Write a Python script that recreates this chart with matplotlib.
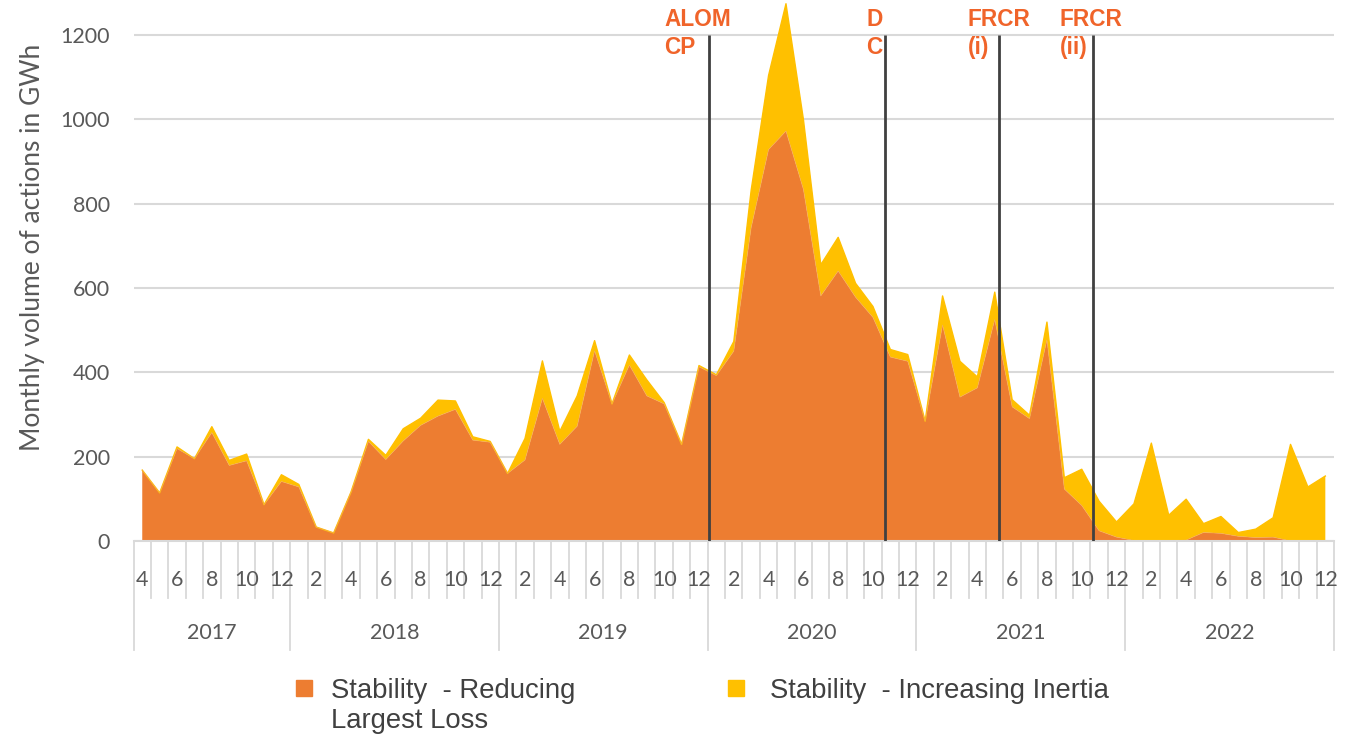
import numpy as np
import matplotlib.pyplot as plt
from matplotlib.patches import Rectangle

# monthly series, Apr 2017 .. Dec 2022 (GWh)
years = [2017, 2018, 2019, 2020, 2021, 2022]
months = [4, 5, 6, 7, 8, 9, 10, 11, 12] + list(range(1, 13)) * 5
reducing_loss = [168, 114, 219, 195, 257, 179, 190, 86, 141,
                 128, 33, 19, 116, 236, 193, 237, 274, 296, 312, 239, 234,
                 160, 192, 338, 229, 272, 451, 325, 417, 344, 325, 229, 413,
                 392, 450, 743, 928, 972, 834, 581, 640, 578, 530, 436, 426,
                 284, 512, 341, 363, 525, 318, 290, 477, 123, 84, 24, 9,
                 1, 0, 0, 2, 20, 18, 11, 8, 9, 0, 0, 0]
increasing_inertia = [0, 0, 4, 0, 14, 12, 16, 0, 16,
                      6, 0, 0, 0, 5, 10, 29, 17, 38, 20, 8, 2,
                      0, 51, 89, 31, 72, 24, 0, 24, 38, 3, 0, 3,
                      2, 23, 89, 176, 302, 166, 74, 80, 33, 26, 18, 16,
                      0, 69, 85, 26, 65, 17, 8, 42, 27, 86, 70, 36,
                      87, 232, 61, 97, 21, 40, 9, 20, 46, 229, 128, 154]

events = ['ALOM\nCP', 'D\nC', 'FRCR\n(i)', 'FRCR\n(ii)']
event_pos = [32.57, 42.67, 49.27, 54.66]
event_text_pos = [30.0, 41.62, 47.43, 52.72]

orange = '#ED7D31'
yellow = '#FFC000'
label_col = '#F0642A'
grey = '#595959'

x = np.arange(len(months))
top = np.array(reducing_loss) + np.array(increasing_inertia)

fig = plt.figure(figsize=(13.6, 7.38), dpi=100)
ax = fig.add_axes([0.0982, 0.267, 0.8827, 0.7314])

ax.set_axisbelow(True)
ax.yaxis.grid(True, color='#D9D9D9', linewidth=1.5)
ax.stackplot(x, reducing_loss, increasing_inertia, colors=[orange, yellow], linewidth=0)
ax.plot(x, top, color=yellow, linewidth=1, zorder=2)
ax.plot(x, reducing_loss, color='#F4A460', linewidth=0.6, alpha=0.6, zorder=2)

ax.set_xlim(-0.5, len(months) - 0.5)
ax.set_ylim(0, 1280)
ax.set_yticks(range(0, 1201, 200))
ax.tick_params(axis='y', length=0, pad=17, labelsize=15.5, labelcolor=grey)
for lab in ax.get_yticklabels():
    lab.set_fontfamily('Lato')
for s in ['top', 'right', 'left']:
    ax.spines[s].set_visible(False)
ax.spines['bottom'].set_color('#D9D9D9')
ax.spines['bottom'].set_linewidth(1.5)
ax.set_xticks([])

# event markers
ax.vlines(event_pos, 0, 1200, color='#404040', linewidth=2, zorder=3)
for name, pos in zip(events, event_text_pos):
    ax.text(pos, 1203, name, ha='left', va='center', color=label_col,
            fontsize=16.3, fontweight='bold', family='Liberation Sans',
            linespacing=1.25)

# two level category axis
trans = ax.get_xaxis_transform()
for b in range(len(months) + 1):
    is_year = b == 0 or b == len(months) or months[b] == 1
    y_end = -0.202 if is_year else -0.106
    ax.plot([b - 0.5, b - 0.5], [0, y_end], transform=trans, color='#D9D9D9',
            linewidth=1.3, clip_on=False)
for i, m in enumerate(months):
    if m % 2 == 0:
        ax.text(i, -0.072, str(m), transform=trans, ha='center', va='center',
                fontsize=15.5, color=grey, family='Lato')
start = 0
for yr in years:
    n = 9 if yr == 2017 else 12
    ax.text(start + n / 2 - 0.5, -0.171, str(yr), transform=trans, ha='center',
            va='center', fontsize=15.5, color=grey, family='Lato')
    start += n

fig.text(33 / 1360, 0.665, 'Monthly volume of actions in GWh', rotation=90,
         ha='center', va='center', fontsize=19, color=grey, family='Lato')

# legend
W, H = 1360, 738
for px, tx, col, txt in [(296, 331, orange, 'Stability  - Reducing\nLargest Loss'),
                         (728, 770, yellow, 'Stability  - Increasing Inertia')]:
    fig.patches.append(Rectangle((px / W, 1 - 696 / H), 16 / W, 16 / H,
                                 transform=fig.transFigure, color=col))
    fig.text(tx / W, 1 - 678 / H, txt, ha='left', va='top', fontsize=19.8,
             color='#404040', family='Liberation Sans', linespacing=1.2)

fig.savefig('out.png', dpi=100)
